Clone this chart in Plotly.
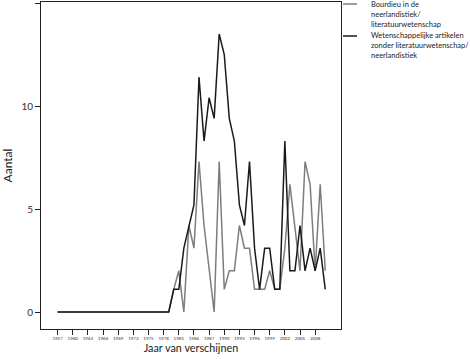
import plotly.graph_objects as go

# ---- data ----
years = list(range(1957, 2011))

bourdieu = [0, 0, 0, 0, 0, 0, 0, 0, 0, 0, 0, 0, 0, 0, 0, 0, 0, 0, 0, 0, 0, 0, 0,
            1.1, 2.0, 0, 4.2, 3.1, 7.3, 4.2, 2.0, 0, 7.3, 1.1, 2.0, 2.0, 4.2, 3.1,
            3.1, 1.1, 1.1, 1.1, 2.0, 1.1, 1.1, 3.1, 6.2, 4.2, 2.0, 7.3, 6.2, 2.0,
            6.2, 2.0]

zonder = [0, 0, 0, 0, 0, 0, 0, 0, 0, 0, 0, 0, 0, 0, 0, 0, 0, 0, 0, 0, 0, 0, 0,
          1.1, 1.1, 3.1, 4.2, 5.2, 11.4, 8.3, 10.4, 9.4, 13.5, 12.5, 9.4, 8.3,
          5.2, 4.2, 7.3, 3.1, 1.1, 3.1, 3.1, 1.1, 1.1, 8.3, 2.0, 2.0, 4.2, 2.0,
          3.1, 2.0, 3.1, 1.1]

series_names = ["Bourdieu in de<br>neerlandistiek/<br>literatuurwetenschap",
                "Wetenschappelijke artikelen<br>zonder literatuurwetenschap/<br>neerlandistiek"]
series_colors = ["#7d7d7d", "#1a1a1a"]

x_tick_vals = [1957, 1960, 1963, 1966, 1969, 1972, 1975, 1978, 1981, 1984,
               1987, 1990, 1993, 1996, 1999, 2002, 2005, 2008]
x_tick_text = ["1957", "1960", "1963", "1966", "1969", "1972", "1975", "1978", "1981",
               "1984", "1987", "1990", "1993", "1996", "1999", "2002", "2005", "2008"]
y_tick_vals = [0, 5, 10, 15]
y_tick_text = ["0", "5", "10", "15"]

FONT = "Lato, 'Open Sans', sans-serif"

fig = go.Figure()
for vals, name, col in zip([bourdieu, zonder], series_names, series_colors):
    fig.add_trace(go.Scatter(x=years, y=vals, mode="lines", name=name,
                             line=dict(color=col, width=1.5), showlegend=False,
                             hoverinfo="skip"))

# manual legend (line samples + real text)
W, H = 300.0, 327.0  # plot area size in px
def px_x(px):
    return (px - 41) / W
def px_y(py):
    return (329 - py) / H

legend_y = [4, 36]
legend_text_center = [14.2, 45.6]
for i in range(2):
    fig.add_shape(type="line", xref="paper", yref="paper",
                  x0=px_x(343), x1=px_x(357), y0=px_y(legend_y[i]), y1=px_y(legend_y[i]),
                  line=dict(color=series_colors[i], width=1.5))
    fig.add_annotation(xref="paper", yref="paper", x=px_x(369), y=px_y(legend_text_center[i]),
                       xanchor="left", yanchor="middle", align="left", showarrow=False,
                       text=series_names[i], font=dict(family=FONT, size=7.5, color="#222"))

axis_common = dict(showline=True, linecolor="#222", linewidth=1, mirror=True,
                   showgrid=False, zeroline=False, ticks="outside", ticklen=5,
                   tickcolor="#222", tickwidth=1)

fig.update_xaxes(range=[1953.71, 2013.12], tickmode="array", tickvals=x_tick_vals,
                 ticktext=x_tick_text, tickfont=dict(family=FONT, size=4.5, color="#333"),
                 title=dict(text="Jaar van verschijnen", standoff=4,
                            font=dict(family=FONT, size=10.8, color="#222")),
                 **axis_common)
fig.update_yaxes(range=[-0.825, 15.05], tickmode="array", tickvals=y_tick_vals,
                 ticktext=y_tick_text, tickfont=dict(family=FONT, size=10, color="#333"),
                 title=dict(text="Aantal", standoff=6,
                            font=dict(family=FONT, size=12, color="#222")),
                 **axis_common)

fig.update_layout(width=470, height=359, margin=dict(l=41, r=129, t=2, b=30),
                  plot_bgcolor="white", paper_bgcolor="white",
                  font=dict(family=FONT))

fig.write_html("out.html", config={"displayModeBar": False},
               post_script="document.body.style.margin='0';")
